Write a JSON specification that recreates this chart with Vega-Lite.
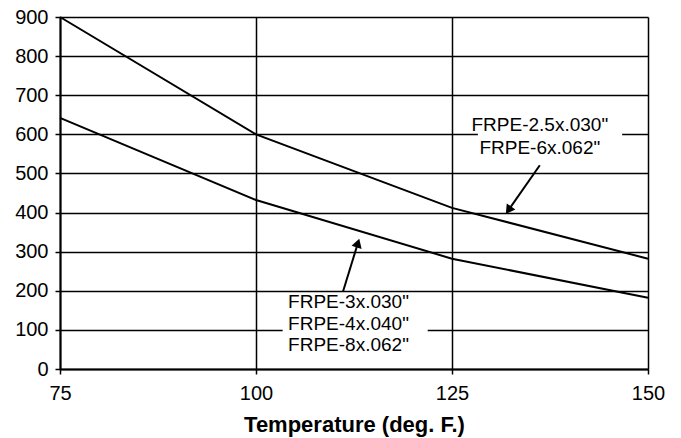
{
  "$schema": "https://vega.github.io/schema/vega-lite/v6.json",
  "autosize": {"type": "none"},
  "width": 588,
  "height": 352,
  "padding": {"left": 60, "top": 17, "right": 33, "bottom": 69},
  "background": "white",
  "config": {
    "view": {"stroke": null},
    "font": "Liberation Sans",
    "axis": {
      "domainColor": "black", "domainWidth": 2,
      "tickColor": "black", "tickWidth": 1.5, "tickSize": 5,
      "gridColor": "black", "gridWidth": 1.5, "gridOpacity": 1,
      "labelColor": "black", "labelFont": "Liberation Sans", "labelFontSize": 20,
      "labelOverlap": false,
      "titleColor": "black", "titleFont": "Liberation Sans"
    }
  },
  "datasets": {
    "lines": [
      {"series": "A", "t": 75, "v": 900},
      {"series": "A", "t": 100, "v": 600},
      {"series": "A", "t": 125, "v": 412},
      {"series": "A", "t": 150, "v": 282},
      {"series": "B", "t": 75, "v": 642},
      {"series": "B", "t": 100, "v": 432},
      {"series": "B", "t": 125, "v": 282},
      {"series": "B", "t": 150, "v": 182}
    ],
    "boxes": [
      {"x1": 128.3, "x2": 146.7, "y1": 535, "y2": 650},
      {"x1": 103.4, "x2": 121.9, "y1": 18, "y2": 189}
    ],
    "arrows": [
      {"x1": 136.2, "y1": 521, "x2": 132.2, "y2": 406, "ang": 215},
      {"x1": 111.1, "y1": 198, "x2": 113.0, "y2": 322, "ang": 17}
    ],
    "labels": [
      {"txt": "FRPE-2.5x.030\"", "x": 136.2, "y": 624},
      {"txt": "FRPE-6x.062\"", "x": 136.2, "y": 565},
      {"txt": "FRPE-3x.030\"", "x": 111.8, "y": 171},
      {"txt": "FRPE-4x.040\"", "x": 111.8, "y": 115},
      {"txt": "FRPE-8x.062\"", "x": 111.8, "y": 61}
    ]
  },
  "layer": [
    {
      "data": {"name": "boxes"},
      "mark": {"type": "rect", "fill": "white", "stroke": null},
      "encoding": {
        "x": {"field": "x1", "type": "quantitative",
          "scale": {"domain": [75, 150], "nice": false, "zero": false},
          "axis": {"values": [75, 100, 125, 150], "tickCount": 20, "title": "Temperature (deg. F.)",
            "titleFontSize": 22, "titleFontWeight": "bold", "labelPadding": 9, "titlePadding": 11, "labelFlush": false}},
        "x2": {"field": "x2"},
        "y": {"field": "y1", "type": "quantitative",
          "scale": {"domain": [0, 900], "nice": false},
          "axis": {"values": [0, 100, 200, 300, 400, 500, 600, 700, 800, 900], "tickCount": 20, "title": null, "labelPadding": 7}},
        "y2": {"field": "y2"}
      }
    },
    {
      "data": {"name": "lines"},
      "mark": {"type": "line", "color": "black", "strokeWidth": 2},
      "encoding": {
        "x": {"field": "t", "type": "quantitative",
          "axis": {"values": [75, 100, 125, 150], "tickCount": 20, "title": "Temperature (deg. F.)",
            "titleFontSize": 22, "titleFontWeight": "bold", "labelPadding": 9, "titlePadding": 11, "labelFlush": false}},
        "y": {"field": "v", "type": "quantitative",
          "axis": {"values": [0, 100, 200, 300, 400, 500, 600, 700, 800, 900], "tickCount": 20, "title": null, "labelPadding": 7}},
        "detail": {"field": "series"}
      }
    },
    {
      "data": {"name": "arrows"},
      "mark": {"type": "rule", "color": "black", "strokeWidth": 2},
      "encoding": {
        "x": {"field": "x1", "type": "quantitative"},
        "y": {"field": "y1", "type": "quantitative"},
        "x2": {"field": "x2"},
        "y2": {"field": "y2"}
      }
    },
    {
      "data": {"name": "arrows"},
      "mark": {"type": "point", "shape": "triangle-up", "filled": true, "color": "black", "opacity": 1, "size": 110},
      "encoding": {
        "x": {"field": "x2", "type": "quantitative"},
        "y": {"field": "y2", "type": "quantitative"},
        "angle": {"field": "ang", "type": "quantitative", "scale": null}
      }
    },
    {
      "data": {"name": "labels"},
      "mark": {"type": "text", "color": "black", "fontSize": 19, "font": "Liberation Sans", "align": "center", "baseline": "middle"},
      "encoding": {
        "x": {"field": "x", "type": "quantitative"},
        "y": {"field": "y", "type": "quantitative"},
        "text": {"field": "txt"}
      }
    }
  ]
}
